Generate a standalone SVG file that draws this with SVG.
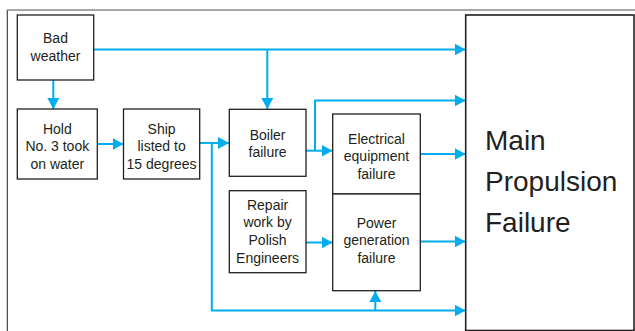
<svg xmlns="http://www.w3.org/2000/svg" width="635" height="331" viewBox="0 0 635 331">
  <defs>
    <marker id="ah" markerWidth="11" markerHeight="12" refX="11" refY="6" orient="auto" markerUnits="userSpaceOnUse">
      <path d="M0,0 L11,6 L0,12 Z" fill="#00aeef"/>
    </marker>
  </defs>
  <style>
    .box { fill: #fff; stroke: #231f20; stroke-width: 1.3; }
    .t { font-family: "Liberation Sans", Arial, sans-serif; font-size: 14px; fill: #231f20; text-anchor: middle; }
    .big { font-family: "Liberation Sans", Arial, sans-serif; font-size: 28px; fill: #231f20; }
    .c { fill: none; stroke: #00aeef; stroke-width: 2; }
  </style>
  <rect width="635" height="331" fill="#fff"/>
  <path d="M7.3,331 V10" fill="none" stroke="#333" stroke-width="1.1"/>
  <path d="M6.8,10 H635" fill="none" stroke="#8a8a8a" stroke-width="1.5"/>

  <g id="connectors">
    <path class="c" d="M93.7,49.5 H465.5" marker-end="url(#ah)"/>
    <path class="c" d="M267.3,49.5 V109" marker-end="url(#ah)"/>
    <path class="c" d="M53.3,80 V109" marker-end="url(#ah)"/>
    <path class="c" d="M97.3,144 H123.5" marker-end="url(#ah)"/>
    <path class="c" d="M199.7,143 H229" marker-end="url(#ah)"/>
    <path class="c" d="M211.8,143 V310.5 H465.5" marker-end="url(#ah)"/>
    <path class="c" d="M375.3,310.5 V291" marker-end="url(#ah)"/>
    <path class="c" d="M306,150.7 H332.5" marker-end="url(#ah)"/>
    <path class="c" d="M315,150.7 V100.5 H465.5" marker-end="url(#ah)"/>
    <path class="c" d="M420.3,154 H465.5" marker-end="url(#ah)"/>
    <path class="c" d="M306,242.5 H332.5" marker-end="url(#ah)"/>
    <path class="c" d="M420.3,241.5 H465.5" marker-end="url(#ah)"/>
  </g>

  <g id="bad-weather">
    <rect class="box" x="17.3" y="15" width="76.4" height="65"/>
    <text class="t" x="55.5" y="43.3">Bad</text>
    <text class="t" x="55.5" y="61">weather</text>
  </g>
  <g id="hold">
    <rect class="box" x="17.3" y="109" width="80" height="70"/>
    <text class="t" x="57.3" y="133.5">Hold</text>
    <text class="t" x="57.3" y="151.2">No. 3 took</text>
    <text class="t" x="57.3" y="168.9">on water</text>
  </g>
  <g id="ship">
    <rect class="box" x="123.5" y="109" width="76.2" height="70"/>
    <text class="t" x="161.6" y="133.5">Ship</text>
    <text class="t" x="161.6" y="151.2">listed to</text>
    <text class="t" x="161.6" y="168.9">15 degrees</text>
  </g>
  <g id="boiler">
    <rect class="box" x="229.3" y="109.3" width="76.7" height="67"/>
    <text class="t" x="267.6" y="139.5">Boiler</text>
    <text class="t" x="267.6" y="157">failure</text>
  </g>
  <g id="repair">
    <rect class="box" x="229.3" y="190.7" width="76.7" height="82"/>
    <text class="t" x="267.6" y="209.5">Repair</text>
    <text class="t" x="267.6" y="227.2">work by</text>
    <text class="t" x="267.6" y="244.9">Polish</text>
    <text class="t" x="267.6" y="262.6">Engineers</text>
  </g>
  <g id="electrical">
    <rect class="box" x="332.7" y="114" width="87.6" height="80"/>
    <text class="t" x="376.5" y="143.5">Electrical</text>
    <text class="t" x="376.5" y="161.2">equipment</text>
    <text class="t" x="376.5" y="178.9">failure</text>
  </g>
  <g id="power">
    <rect class="box" x="332.7" y="194" width="87.6" height="96.7"/>
    <text class="t" x="376.5" y="227.5">Power</text>
    <text class="t" x="376.5" y="245.2">generation</text>
    <text class="t" x="376.5" y="262.9">failure</text>
  </g>
  <g id="main">
    <rect class="box" x="465.7" y="15" width="168.3" height="315.5" style="stroke-width:1.6"/>
    <text class="big" x="485" y="150">Main</text>
    <text class="big" x="485" y="190.8">Propulsion</text>
    <text class="big" x="485" y="231.6">Failure</text>
  </g>
</svg>
